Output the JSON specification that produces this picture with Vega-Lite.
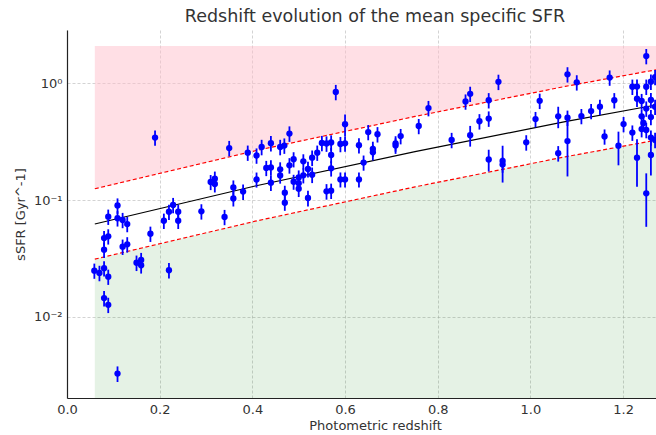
{
  "$schema": "https://vega.github.io/schema/vega-lite/v6.json",
  "width": 589,
  "height": 368,
  "autosize": {"type": "none"},
  "padding": {"left": 67, "top": 30, "right": 0, "bottom": 37},
  "background": "white",
  "title": {
    "text": "Redshift evolution of the mean specific SFR",
    "fontSize": 17.5,
    "fontWeight": "normal",
    "color": "#333",
    "dx": 13.5,
    "offset": 5
  },
  "config": {
    "font": "DejaVu Sans",
    "view": {"stroke": null},
    "axis": {
      "grid": true,
      "gridColor": "#b0b0b0",
      "gridOpacity": 0.7,
      "gridDash": [3, 2],
      "gridWidth": 0.8,
      "domainColor": "#222",
      "domainWidth": 1.2,
      "ticks": false,
      "labelFlush": false,
      "labelFontSize": 13,
      "labelColor": "#333",
      "titleFontSize": 13,
      "titleFontWeight": "normal",
      "titleColor": "#333"
    }
  },
  "datasets": {
    "fit": [
      {"z": 0.06, "mid": 0.0624, "hi": 0.1248, "lo": 0.0312},
      {"z": 0.406, "mid": 0.1318, "hi": 0.2636, "lo": 0.0659},
      {"z": 0.751, "mid": 0.259, "hi": 0.518, "lo": 0.1295},
      {"z": 1.075, "mid": 0.468, "hi": 0.936, "lo": 0.234},
      {"z": 1.271, "mid": 0.649, "hi": 1.298, "lo": 0.3245}
    ],
    "pts": [
      {"z": 0.059, "s": 0.0249, "e": 0.0037},
      {"z": 0.070, "s": 0.0238, "e": 0.0036},
      {"z": 0.080, "s": 0.0261, "e": 0.0039},
      {"z": 0.089, "s": 0.0221, "e": 0.0033},
      {"z": 0.080, "s": 0.0145, "e": 0.0022},
      {"z": 0.089, "s": 0.0127, "e": 0.0019},
      {"z": 0.109, "s": 0.00328, "e": 0.0005},
      {"z": 0.080, "s": 0.0473, "e": 0.0071},
      {"z": 0.089, "s": 0.0489, "e": 0.0073},
      {"z": 0.080, "s": 0.0376, "e": 0.0056},
      {"z": 0.120, "s": 0.0399, "e": 0.006},
      {"z": 0.130, "s": 0.0418, "e": 0.0063},
      {"z": 0.150, "s": 0.0291, "e": 0.0044},
      {"z": 0.160, "s": 0.0307, "e": 0.0046},
      {"z": 0.160, "s": 0.0277, "e": 0.0042},
      {"z": 0.220, "s": 0.0251, "e": 0.0038},
      {"z": 0.180, "s": 0.0515, "e": 0.0077},
      {"z": 0.109, "s": 0.0897, "e": 0.0135},
      {"z": 0.089, "s": 0.072, "e": 0.0108},
      {"z": 0.109, "s": 0.0698, "e": 0.0105},
      {"z": 0.120, "s": 0.0675, "e": 0.0101},
      {"z": 0.130, "s": 0.0623, "e": 0.0093},
      {"z": 0.209, "s": 0.0665, "e": 0.01},
      {"z": 0.220, "s": 0.0794, "e": 0.0119},
      {"z": 0.229, "s": 0.0906, "e": 0.0136},
      {"z": 0.240, "s": 0.0794, "e": 0.0119},
      {"z": 0.240, "s": 0.0665, "e": 0.01},
      {"z": 0.290, "s": 0.080, "e": 0.012},
      {"z": 0.340, "s": 0.0716, "e": 0.0107},
      {"z": 0.190, "s": 0.342, "e": 0.051},
      {"z": 0.350, "s": 0.278, "e": 0.042},
      {"z": 0.390, "s": 0.254, "e": 0.038},
      {"z": 0.310, "s": 0.1425, "e": 0.021},
      {"z": 0.319, "s": 0.152, "e": 0.023},
      {"z": 0.319, "s": 0.137, "e": 0.021},
      {"z": 0.359, "s": 0.128, "e": 0.019},
      {"z": 0.359, "s": 0.103, "e": 0.015},
      {"z": 0.380, "s": 0.118, "e": 0.018},
      {"z": 0.409, "s": 0.240, "e": 0.036},
      {"z": 0.420, "s": 0.284, "e": 0.043},
      {"z": 0.440, "s": 0.306, "e": 0.046},
      {"z": 0.460, "s": 0.284, "e": 0.043},
      {"z": 0.469, "s": 0.292, "e": 0.044},
      {"z": 0.480, "s": 0.370, "e": 0.056},
      {"z": 0.550, "s": 0.307, "e": 0.046},
      {"z": 0.560, "s": 0.304, "e": 0.046},
      {"z": 0.570, "s": 0.310, "e": 0.047},
      {"z": 0.580, "s": 0.838, "e": 0.126},
      {"z": 0.590, "s": 0.301, "e": 0.045},
      {"z": 0.600, "s": 0.305, "e": 0.046},
      {"z": 0.600, "s": 0.445, "e": 0.093},
      {"z": 0.630, "s": 0.294, "e": 0.044},
      {"z": 0.650, "s": 0.381, "e": 0.057},
      {"z": 0.660, "s": 0.274, "e": 0.041},
      {"z": 0.660, "s": 0.256, "e": 0.038},
      {"z": 0.670, "s": 0.365, "e": 0.055},
      {"z": 0.709, "s": 0.305, "e": 0.046},
      {"z": 0.709, "s": 0.292, "e": 0.044},
      {"z": 0.720, "s": 0.352, "e": 0.053},
      {"z": 0.759, "s": 0.429, "e": 0.064},
      {"z": 0.540, "s": 0.254, "e": 0.038},
      {"z": 0.529, "s": 0.230, "e": 0.035},
      {"z": 0.570, "s": 0.2424, "e": 0.036},
      {"z": 0.489, "s": 0.223, "e": 0.033},
      {"z": 0.510, "s": 0.214, "e": 0.032},
      {"z": 0.480, "s": 0.198, "e": 0.03},
      {"z": 0.430, "s": 0.188, "e": 0.028},
      {"z": 0.440, "s": 0.190, "e": 0.029},
      {"z": 0.460, "s": 0.183, "e": 0.027},
      {"z": 0.460, "s": 0.162, "e": 0.024},
      {"z": 0.520, "s": 0.184, "e": 0.028},
      {"z": 0.570, "s": 0.1866, "e": 0.028},
      {"z": 0.640, "s": 0.209, "e": 0.031},
      {"z": 0.529, "s": 0.1645, "e": 0.025},
      {"z": 0.510, "s": 0.1626, "e": 0.024},
      {"z": 0.500, "s": 0.156, "e": 0.023},
      {"z": 0.489, "s": 0.1433, "e": 0.021},
      {"z": 0.500, "s": 0.139, "e": 0.021},
      {"z": 0.500, "s": 0.125, "e": 0.019},
      {"z": 0.440, "s": 0.1406, "e": 0.021},
      {"z": 0.409, "s": 0.1497, "e": 0.022},
      {"z": 0.470, "s": 0.1154, "e": 0.017},
      {"z": 0.470, "s": 0.0948, "e": 0.014},
      {"z": 0.520, "s": 0.104, "e": 0.016},
      {"z": 0.560, "s": 0.1187, "e": 0.018},
      {"z": 0.570, "s": 0.120, "e": 0.018},
      {"z": 0.590, "s": 0.150, "e": 0.022},
      {"z": 0.600, "s": 0.150, "e": 0.022},
      {"z": 0.630, "s": 0.150, "e": 0.022},
      {"z": 0.780, "s": 0.611, "e": 0.092},
      {"z": 0.830, "s": 0.326, "e": 0.049},
      {"z": 0.860, "s": 0.695, "e": 0.104},
      {"z": 0.870, "s": 0.809, "e": 0.121},
      {"z": 0.870, "s": 0.358, "e": 0.072},
      {"z": 0.890, "s": 0.471, "e": 0.071},
      {"z": 0.910, "s": 0.713, "e": 0.107},
      {"z": 0.910, "s": 0.497, "e": 0.075},
      {"z": 0.910, "s": 0.222, "e": 0.047},
      {"z": 0.931, "s": 1.024, "e": 0.154},
      {"z": 0.940, "s": 0.216, "e": 0.075},
      {"z": 0.940, "s": 0.201, "e": 0.03},
      {"z": 0.991, "s": 0.311, "e": 0.047},
      {"z": 1.011, "s": 0.492, "e": 0.074},
      {"z": 1.020, "s": 0.705, "e": 0.106},
      {"z": 1.060, "s": 0.519, "e": 0.108},
      {"z": 1.060, "s": 0.251, "e": 0.038},
      {"z": 1.080, "s": 1.187, "e": 0.178},
      {"z": 1.080, "s": 0.505, "e": 0.076},
      {"z": 1.080, "s": 0.319, "e": 0.16},
      {"z": 1.100, "s": 1.014, "e": 0.152},
      {"z": 1.110, "s": 0.522, "e": 0.078},
      {"z": 1.131, "s": 0.576, "e": 0.086},
      {"z": 1.150, "s": 0.627, "e": 0.094},
      {"z": 1.160, "s": 0.349, "e": 0.052},
      {"z": 1.171, "s": 1.114, "e": 0.167},
      {"z": 1.181, "s": 0.713, "e": 0.107},
      {"z": 1.190, "s": 0.291, "e": 0.093},
      {"z": 1.201, "s": 0.446, "e": 0.067},
      {"z": 1.220, "s": 0.930, "e": 0.14},
      {"z": 1.220, "s": 0.377, "e": 0.057},
      {"z": 1.230, "s": 0.933, "e": 0.14},
      {"z": 1.230, "s": 0.734, "e": 0.11},
      {"z": 1.230, "s": 0.230, "e": 0.1},
      {"z": 1.250, "s": 1.70, "e": 0.255},
      {"z": 1.250, "s": 0.114, "e": 0.055},
      {"z": 1.240, "s": 0.702, "e": 0.105},
      {"z": 1.240, "s": 0.519, "e": 0.078},
      {"z": 1.244, "s": 0.455, "e": 0.068},
      {"z": 1.240, "s": 0.404, "e": 0.061},
      {"z": 1.250, "s": 0.930, "e": 0.14},
      {"z": 1.250, "s": 0.605, "e": 0.091},
      {"z": 1.250, "s": 0.397, "e": 0.06},
      {"z": 1.260, "s": 1.026, "e": 0.154},
      {"z": 1.260, "s": 0.716, "e": 0.107},
      {"z": 1.260, "s": 0.512, "e": 0.077},
      {"z": 1.260, "s": 0.342, "e": 0.051},
      {"z": 1.260, "s": 0.2424, "e": 0.08},
      {"z": 1.269, "s": 1.125, "e": 0.169},
      {"z": 1.269, "s": 0.627, "e": 0.094},
      {"z": 1.269, "s": 0.326, "e": 0.049}
    ]
  },
  "encoding": {
    "x": {
      "field": "z",
      "type": "quantitative",
      "title": "Photometric redshift",
      "scale": {"domain": [0, 1.271], "nice": false, "zero": false},
      "axis": {
        "values": [0, 0.2, 0.4, 0.6, 0.8, 1.0, 1.2],
        "format": ".1f",
        "labelPadding": 5,
        "titleX": 308,
        "titleY": 21,
        "titleBaseline": "top",
        "titleAlign": "center"
      }
    }
  },
  "layer": [
    {
      "data": {"name": "fit"},
      "mark": {"type": "area", "color": "#ffc0cb", "opacity": 0.5, "clip": true},
      "encoding": {
        "y": {"field": "hi", "type": "quantitative", "title": "sSFR [Gyr^-1]", "scale": {"type": "log", "domain": [0.00203, 2.84], "nice": false}},
        "y2": {"datum": 2.07}
      }
    },
    {
      "data": {"name": "fit"},
      "mark": {"type": "area", "color": "green", "opacity": 0.1, "clip": true},
      "encoding": {
        "y": {"field": "lo", "type": "quantitative", "title": "sSFR [Gyr^-1]", "scale": {"type": "log", "domain": [0.00203, 2.84], "nice": false}},
        "y2": {"datum": 0.00203}
      }
    },
    {
      "data": {"name": "fit"},
      "mark": {"type": "line", "color": "black", "strokeWidth": 1.2, "clip": true},
      "encoding": {
        "y": {"field": "mid", "type": "quantitative", "title": "sSFR [Gyr^-1]", "scale": {"type": "log", "domain": [0.00203, 2.84], "nice": false}}
      }
    },
    {
      "data": {"name": "fit"},
      "mark": {"type": "line", "color": "red", "strokeWidth": 1.2, "strokeDash": [4, 2.5], "clip": true},
      "encoding": {
        "y": {"field": "hi", "type": "quantitative", "title": "sSFR [Gyr^-1]", "scale": {"type": "log", "domain": [0.00203, 2.84], "nice": false}}
      }
    },
    {
      "data": {"name": "fit"},
      "mark": {"type": "line", "color": "red", "strokeWidth": 1.2, "strokeDash": [4, 2.5], "clip": true},
      "encoding": {
        "y": {"field": "lo", "type": "quantitative", "title": "sSFR [Gyr^-1]", "scale": {"type": "log", "domain": [0.00203, 2.84], "nice": false}}
      }
    },
    {
      "data": {"name": "pts"},
      "mark": {"type": "errorbar", "rule": {"strokeWidth": 1.8}, "clip": true},
      "encoding": {
        "y": {"field": "s", "type": "quantitative", "title": "sSFR [Gyr^-1]", "scale": {"type": "log", "domain": [0.00203, 2.84], "nice": false}},
        "yError": {"field": "e"},
        "color": {"value": "#0000ff"}
      }
    },
    {
      "data": {"name": "pts"},
      "mark": {"type": "circle", "size": 40, "opacity": 1, "color": "#0000ff", "clip": true},
      "encoding": {
        "y": {
          "field": "s",
          "type": "quantitative",
          "title": "sSFR [Gyr^-1]",
          "scale": {"type": "log", "domain": [0.00203, 2.84], "nice": false},
          "axis": {
            "values": [0.01, 0.1, 1],
            "labelExpr": "datum.value >= 0.5 ? '10⁰' : datum.value >= 0.05 ? '10⁻¹' : '10⁻²'",
            "labelPadding": 5,
            "titleX": -47,
            "titleY": 184,
            "titleAngle": -90,
            "titleAlign": "center",
            "titleBaseline": "middle"
          }
        }
      }
    }
  ]
}
